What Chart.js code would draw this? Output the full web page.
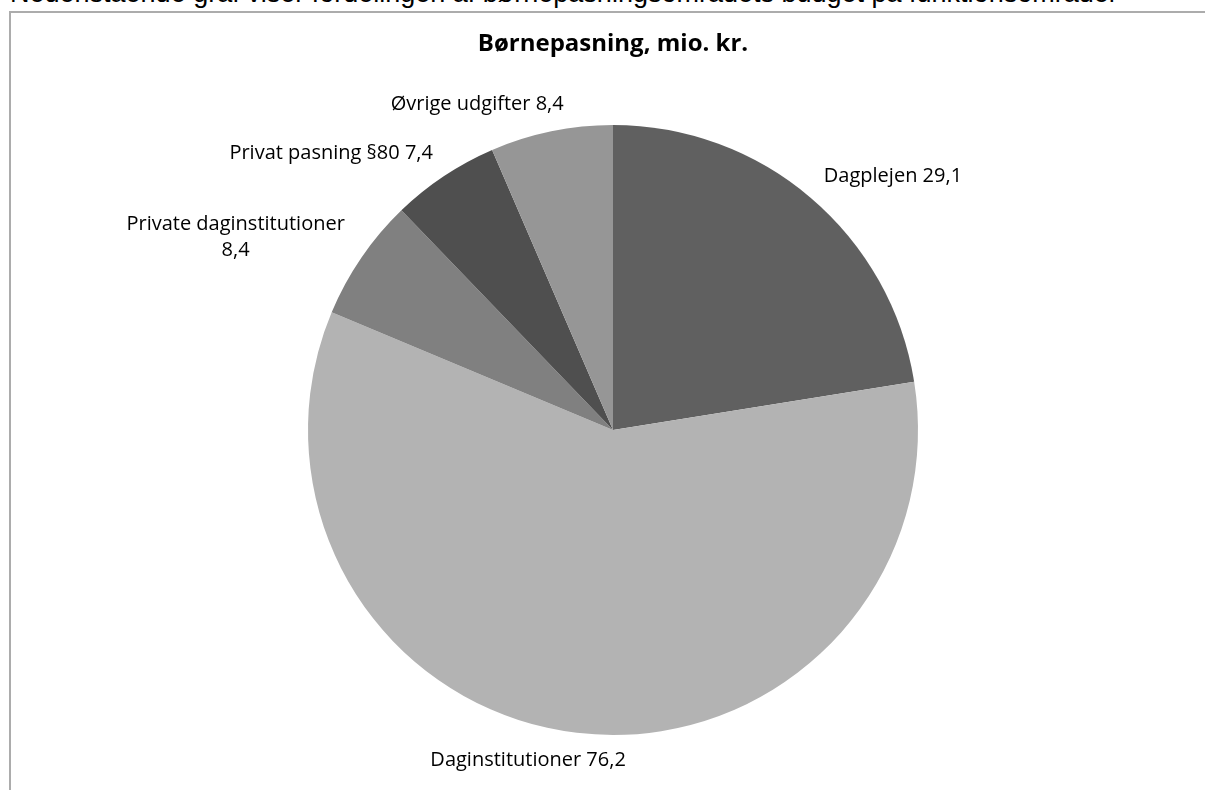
<!DOCTYPE html>
<html>
<head>
<meta charset="utf-8">
<script src="https://cdn.jsdelivr.net/npm/chart.js@4/dist/chart.umd.min.js"></script>
<style>
  html, body { margin: 0; padding: 0; background: #fff; overflow: hidden; }
  body { width: 1205px; height: 790px; position: relative; }
  #intro {
    position: absolute; left: 10px; top: -20px;
    font: 27px "Liberation Sans", Arial, sans-serif; line-height: 27px;
    white-space: nowrap; color: #000;
  }
  #frame {
    position: absolute; left: 9px; top: 11px; width: 1300px; height: 900px;
    border: 2px solid #acacac; box-sizing: border-box;
  }
  #wrap { position: absolute; left: 11px; top: 13px; width: 1194px; height: 777px; }
</style>
</head>
<body>
<div id="intro">Nedenstående graf viser fordelingen af børnepasningsområdets budget på funktionsområder</div>
<div id="frame"></div>
<div id="wrap"><canvas id="myChart"></canvas></div>
<script>
// Børnepasning, mio. kr.
const categories = ['Dagplejen', 'Daginstitutioner', 'Private daginstitutioner', 'Privat pasning §80', 'Øvrige udgifter'];
const values = [29.1, 76.2, 8.4, 7.4, 8.4];
const sliceColors = ['#606060', '#b3b3b3', '#808080', '#4f4f4f', '#969696'];

const labelFont = '20px "Open Sans", sans-serif';

// draws "name value" labels outside each slice, like Excel's outside-end labels
const outsideLabels = {
  id: 'outsideLabels',
  afterDatasetsDraw(chart) {
    const ctx = chart.ctx;
    const meta = chart.getDatasetMeta(0);
    ctx.save();
    ctx.font = labelFont;
    ctx.fillStyle = '#000';
    ctx.textBaseline = 'middle';
    ctx.textAlign = 'center';
    const lineH = 26;
    meta.data.forEach((arc, i) => {
      const p = arc.getProps(['x', 'y', 'startAngle', 'endAngle', 'outerRadius']);
      const mid = (p.startAngle + p.endAngle) / 2;
      const r = p.outerRadius + 20;
      const px = p.x + Math.cos(mid) * r;
      const py = p.y + Math.sin(mid) * r;
      const value = values[i].toFixed(1).replace('.', ',');
      let lines = [categories[i] + ' ' + value];
      if (ctx.measureText(lines[0]).width > 240) lines = [categories[i], value];
      const w = Math.max(...lines.map((l) => ctx.measureText(l).width));
      const h = lines.length * lineH;
      const sx = Math.max(-1, Math.min(1, Math.cos(mid) * 4));
      const sy = Math.sin(mid) * 0.6;
      const cx = px + sx * w / 2;
      const cy = py + sy * h / 2;
      lines.forEach((l, j) => {
        ctx.fillText(l, cx, cy - h / 2 + lineH / 2 + j * lineH);
      });
    });
    ctx.restore();
  },
};

const ctx = document.getElementById('myChart');

new Chart(ctx, {
  type: 'pie',
  data: {
    labels: categories,
    datasets: [
      {
        data: values,
        backgroundColor: sliceColors,
        borderWidth: 0,
      },
    ],
  },
  options: {
    responsive: true,
    maintainAspectRatio: false,
    animation: false,
    layout: {
      padding: { left: 297, right: 287, top: 0, bottom: 55 },
    },
    plugins: {
      legend: { display: false },
      tooltip: { enabled: false },
      title: {
        display: true,
        text: 'Børnepasning, mio. kr.',
        color: '#000',
        font: { family: '"Open Sans", sans-serif', size: 24, weight: 'bold', lineHeight: 1.2 },
        padding: { top: 17, bottom: 66.2 },
      },
    },
  },
  plugins: [outsideLabels],
});
</script>
</body>
</html>
